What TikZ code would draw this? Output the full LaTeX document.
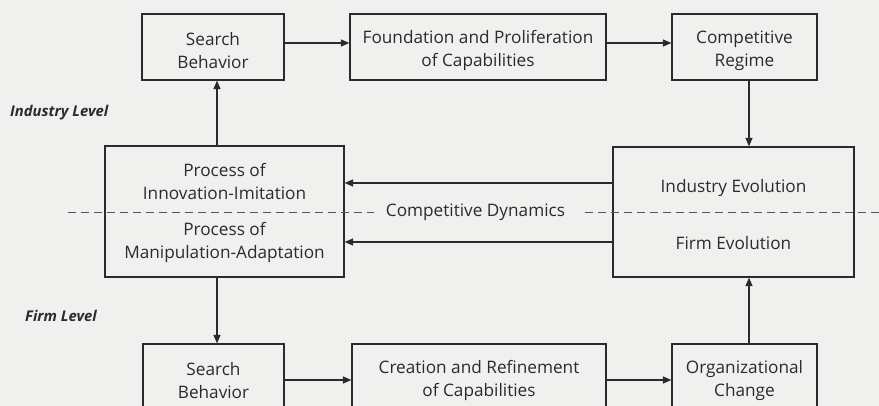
\documentclass[tikz,border=0pt]{standalone}
\usepackage{fontspec}
\setmainfont{Open Sans}
\usetikzlibrary{arrows.meta}
\definecolor{paper}{HTML}{F0F0EF}
\definecolor{ink}{HTML}{2B2B2B}
% invisible head room on a first line, to push a text block down a little
\newcommand\headroom[1]{\rule{0pt}{#1}}
\begin{document}
\begin{tikzpicture}[x=1pt,y=-1pt,
  box/.style={draw=ink, line width=1.2pt, text=ink, align=center, inner sep=0pt,
    font=\fontsize{17.2}{23}\selectfont},
  arr/.style={draw=ink, line width=1.2pt, -{Triangle[length=8.5pt,width=7pt]}},
  divider/.style={draw=ink!80, line width=0.8pt, dash pattern=on 8pt off 5pt},
  level/.style={text=ink, anchor=west, inner sep=0pt,
    font=\fontsize{14.8}{17}\selectfont\bfseries\itshape}]

% page
\fill[paper] (0,0) rectangle (879,406);
\useasboundingbox (0,0) rectangle (879,406);

% industry level row
\node[box, minimum width=142pt, minimum height=66pt] (sbtop) at (213,47) {\headroom{20pt}Search\\Behavior};
\node[box, minimum width=256pt, minimum height=66pt] (fp) at (478,47) {\headroom{20pt}Foundation and Proliferation\\of Capabilities};
\node[box, minimum width=145pt, minimum height=66pt] (cr) at (744.5,47) {\headroom{20pt}Competitive\\Regime};

% middle row
\node[box, minimum width=239pt, minimum height=131pt] (proc) at (224.5,211.5)
  {\headroom{17pt}Process of\\Innovation-Imitation\\[13pt]Process of\\Manipulation-Adaptation};
\node[box, minimum width=241pt, minimum height=130pt] (evo) at (733.5,212)
  {\headroom{19pt}Industry Evolution\\[34pt]Firm Evolution};

% firm level row (runs past the lower edge)
\node[box, minimum width=141pt, minimum height=66pt] (sbbot) at (213.5,377) {\headroom{20pt}Search\\Behavior};
\node[box, minimum width=254pt, minimum height=66pt] (cref) at (479,377) {\headroom{20pt}Creation and Refinement\\of Capabilities};
\node[box, minimum width=145pt, minimum height=66pt] (org) at (744.5,377) {\headroom{20pt}Organizational\\Change};

% level labels
\node[level] (indlev) at (10,113) {Industry Level};
\node[level] (firmlev) at (25,316) {Firm Level};

% dividing line between the two levels
\node[text=ink, inner xsep=0pt, inner ysep=4pt, font=\fontsize{17.2}{23}\selectfont] (dyn) at (475.5,212) {Competitive Dynamics};
\coordinate (divL) at (68,212);
\coordinate (divR) at (879,212);
\draw[divider] (divL) -- ([xshift=-12pt]dyn.west);
\draw[divider] ([xshift=20pt]dyn.east) -- (divR);

% top row flow
\draw[arr] ([yshift=4pt]sbtop.east) -- ([yshift=4pt]sbtop.east -| fp.west);
\draw[arr] ([yshift=4pt]fp.east) -- ([yshift=4pt]fp.east -| cr.west);
\draw[arr] ([xshift=4.5pt]cr.south) -- ([xshift=4.5pt]cr.south |- evo.north);
\draw[arr] ([xshift=4pt]sbtop.south |- proc.north) -- ([xshift=4pt]sbtop.south);

% feedback from evolution to processes
\draw[arr] ([yshift=29pt]evo.west) -- ([yshift=29pt]evo.west -| proc.east);
\draw[arr] ([yshift=-30pt]evo.west) -- ([yshift=-30pt]evo.west -| proc.east);

% bottom row flow
\draw[arr] ([xshift=3.5pt]sbbot.north |- proc.south) -- ([xshift=3.5pt]sbbot.north);
\draw[arr] ([yshift=-3pt]sbbot.east) -- ([yshift=-3pt]sbbot.east -| cref.west);
\draw[arr] ([yshift=-3pt]cref.east) -- ([yshift=-3pt]cref.east -| org.west);
\draw[arr] ([xshift=4.5pt]org.north) -- ([xshift=4.5pt]org.north |- evo.south);
\end{tikzpicture}
\end{document}
